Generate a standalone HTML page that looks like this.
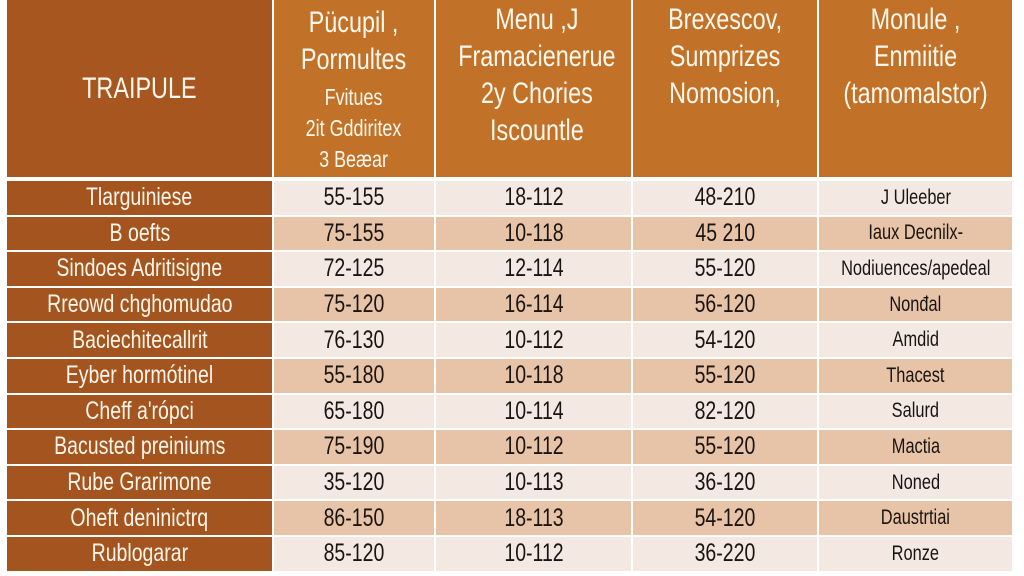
<!DOCTYPE html><html><head><style>
body{margin:0;width:1024px;height:576px;background:#fff;position:relative;overflow:hidden;font-family:"Liberation Sans",sans-serif}
.c{position:absolute;display:flex;align-items:center;justify-content:center;text-align:center;box-sizing:border-box}
.c>span{display:inline-block;transform:scaleX(0.78);white-space:nowrap}
.h{color:#fff8ee;font-size:30px;line-height:37px}
.h small{font-size:23px;line-height:31px;display:block;margin-top:4px}
.d{font-size:25px;color:#1a1410}
.f{font-size:25px;color:#fff6ea;background:#a4541f}
.s{font-size:21px}
</style></head><body>
<div class="c h" style="left:7px;top:0;width:265px;height:177px;background:#a8561f"><span>TRAIPULE</span></div>
<div class="c h" style="left:274px;top:0;width:160px;height:177px;background:#c27228;display:block;padding-top:4px"><span>Pücupil ,<br>Pormultes<small>Fvitues<br>2it Gddiritex<br>3 Beæar</small></span></div>
<div class="c h" style="left:436px;top:0;width:195px;height:177px;background:#c27228;display:block;padding-top:1px"><span>Menu ,J<br>Framacienerue<br>2y Chories<br>Iscountle</span></div>
<div class="c h" style="left:633px;top:0;width:184px;height:177px;background:#c27228;display:block;padding-top:1px"><span>Brexescov,<br>Sumprizes<br>Nomosion,</span></div>
<div class="c h" style="left:819px;top:0;width:193px;height:177px;background:#c27228;display:block;padding-top:1px"><span>Monule ,<br>Enmiitie<br>(tamomalstor)</span></div>
<div id="rows"></div>
<script>
var d=[["Tlarguiniese","55-155","18-112","48-210","J Uleeber"],
["B oefts","75-155","10-118","45 210","Iaux Decnilx-"],
["Sindoes Adritisigne","72-125","12-114","55-120","Nodiuences/apedeal"],
["Rreowd chghomudao","75-120","16-114","56-120","Nonđal"],
["Baciechitecallrit","76-130","10-112","54-120","Amdid"],
["Eyber hormótinel","55-180","10-118","55-120","Thacest"],
["Cheff a'rópci","65-180","10-114","82-120","Salurd"],
["Bacusted preiniums","75-190","10-112","55-120","Mactia"],
["Rube Grarimone","35-120","10-113","36-120","Noned"],
["Oheft deninictrq","86-150","18-113","54-120","Daustrtiai"],
["Rublogarar","85-120","10-112","36-220","Ronze"]];
var X=[[7,265],[274,160],[436,195],[633,184],[819,193]],h="";
for(var i=0;i<11;i++){var y=181+i*35.6,bg=i%2?"#e7c3a8":"#f3e9e2";
for(var j=0;j<5;j++){h+='<div class="c '+(j?'d':'f')+(j==4?' s':'')+'" style="left:'+X[j][0]+'px;top:'+y+'px;width:'+X[j][1]+'px;height:33.6px;'+(j?'background:'+bg:'')+'"><span>'+d[i][j]+'</span></div>';}}
document.getElementById("rows").innerHTML=h;
</script>
</body></html>
